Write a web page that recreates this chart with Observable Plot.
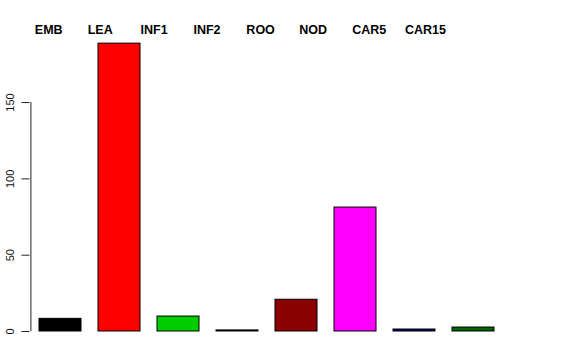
<!DOCTYPE html>
<html><head><meta charset="utf-8">
<script src="https://cdn.jsdelivr.net/npm/d3@7"></script>
<script src="https://cdn.jsdelivr.net/npm/@observablehq/plot@0.6"></script>
<style>
body{margin:0;background:#fff;font-family:"Liberation Sans",Arial,sans-serif;}
#legend{height:40px;box-sizing:border-box;padding-top:23px;padding-left:34.8px;display:flex;}
#legend span{width:52.9px;flex:none;font-weight:bold;font-size:12.5px;line-height:14px;white-space:nowrap;color:#000;}
</style></head><body><div id="legend"></div><div id="chart"></div>
<script>
const categories = ["EMB","LEA","INF1","INF2","ROO","NOD","CAR5","CAR15"];
const values = [8.3, 188.6, 9.8, 0.7, 20.8, 81.2, 1.3, 2.6];
const colors = ["#000000","#FF0000","#00CD00","#000000","#8B0000","#FF00FF","#000080","#006400"];
const yTicks = [0, 50, 100, 150];

const data = categories.map((c, i) => ({cat: c, value: values[i], color: colors[i]}));

const legend = document.getElementById("legend");
for (const c of categories) {
  const s = document.createElement("span");
  s.textContent = c;
  legend.appendChild(s);
}

const chart = Plot.plot({
  width: 576,
  height: 320,
  marginLeft: 38,
  marginRight: 81.7,
  marginTop: 1,
  marginBottom: 29,
  style: {fontFamily: "Liberation Sans, Arial, sans-serif", fontSize: "11px", background: "white", color: "black"},
  x: {domain: categories, paddingInner: 0.286, paddingOuter: 0, axis: null, label: null},
  y: {domain: [0, 190], axis: null, label: null},
  marks: [
    Plot.barY(data, {x: "cat", y: "value", fill: "color", stroke: "black", strokeWidth: 1}),
    Plot.ruleX([categories[0]], {y1: 0, y2: 150, dx: -29.6, stroke: "#222", strokeWidth: 1}),
    Plot.axisY(yTicks, {anchor: "left", label: null, dx: -8.5, tickSize: 8, tickPadding: 8.5, tickRotate: -90, fontSize: 11, stroke: "#222", fill: "#111"})
  ]
});
document.getElementById("chart").appendChild(chart);
</script>
</body></html>
